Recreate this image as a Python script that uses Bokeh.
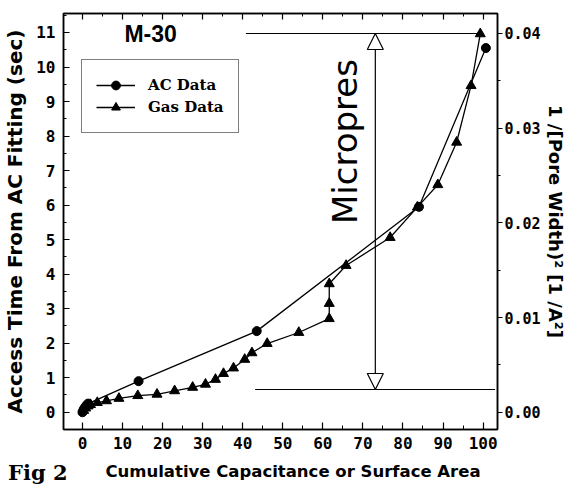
import math
from bokeh.plotting import figure
from bokeh.layouts import column
from bokeh.models import (Range1d, LinearAxis, FixedTicker, Legend, LegendItem,
                          Label, Arrow, NormalHead, NumeralTickFormatter, Div)
from bokeh.embed import file_html
from bokeh.resources import INLINE

# ---- data ----
ac_x = [0.0, 0.2, 0.4, 0.7, 1.0, 1.4, 14.0, 43.5, 84.0, 100.7]
ac_y = [0.0, 0.05, 0.1, 0.15, 0.2, 0.25, 0.9, 2.35, 5.95, 10.55]

gas_x = [0.3, 0.8, 1.4, 2.0, 3.7, 6.0, 9.1, 13.8, 18.6, 23.0, 27.5, 30.7, 33.2,
         35.2, 37.7, 40.5, 42.3, 46.1, 54.0, 61.6, 61.6, 61.6, 65.8, 76.8,
         83.6, 88.7, 93.4, 97.0, 99.3]
gas_y = [0.05, 0.12, 0.18, 0.22, 0.28, 0.33, 0.40, 0.48, 0.52, 0.62, 0.72, 0.81,
         0.95, 1.12, 1.28, 1.53, 1.72, 1.99, 2.31, 2.71, 3.15, 3.72, 4.25, 5.06,
         5.94, 6.59, 7.82, 9.46, 10.96]

x_ticks = [0, 10, 20, 30, 40, 50, 60, 70, 80, 90, 100]
x_minor = [5, 15, 25, 35, 45, 55, 65, 75, 85, 95]
y_ticks = list(range(0, 12))
y_minor = [i + 0.5 for i in range(-1, 12)]
y2_ticks = [0.0, 0.01, 0.02, 0.03, 0.04]
y2_minor = [0.005, 0.015, 0.025, 0.035]

x_title = "Cumulative Capacitance or Surface Area"
y_title = "Access Time From AC Fitting (sec)"
y2_title = "1 /[Pore Width)² [1 /A²]"
fig_title = "Fig 2"
sample_title = "M-30"
band_title = "Micropres"

# micropore band (right-axis units) and its x extents
micro_top = 0.04
micro_bottom = 0.0024
micro_top_x = [40.8, 99.3]
micro_bottom_x = [43.1, 103.0]
micro_arrow_x = 73.1

x_lo, x_hi = -4.74, 103.6
y_lo, y_hi = -0.5, 11.55
k = 0.003646  # left -> right axis scale

W = 568
H_MAIN = 456
H_FOOT = 24

p = figure(width=W, height=H_MAIN, output_backend="svg", toolbar_location=None,
           x_range=Range1d(x_lo, x_hi), y_range=Range1d(y_lo, y_hi),
           min_border_left=63, min_border_right=68, min_border_top=13,
           min_border_bottom=27)
p.extra_y_ranges = {"right": Range1d(y_lo * k, y_hi * k)}
p.xgrid.visible = False
p.ygrid.visible = False
p.outline_line_color = "black"
p.outline_line_width = 1.5
p.background_fill_color = "white"
p.border_fill_color = "white"

tick_font = "DejaVu Sans Mono"

def style_axis(ax, size="16px"):
    ax.axis_line_color = "black"
    ax.axis_line_width = 1.5
    ax.major_tick_line_color = "black"
    ax.minor_tick_line_color = "black"
    ax.major_tick_line_width = 1.2
    ax.minor_tick_line_width = 1.0
    ax.major_label_text_font = tick_font
    ax.major_label_text_font_style = "bold"
    ax.major_label_text_font_size = size
    ax.major_label_text_color = "black"
    ax.major_label_text_line_height = 1.0
    ax.axis_label_text_color = "black"
    ax.axis_label_text_line_height = 1.0

# bottom axis
xa = p.xaxis[0]
style_axis(xa)
xa.ticker = FixedTicker(ticks=x_ticks, minor_ticks=x_minor)
xa.major_tick_in = 7
xa.major_tick_out = 0
xa.minor_tick_in = 4
xa.minor_tick_out = 0
xa.major_label_standoff = 7

# left axis
ya = p.yaxis[0]
style_axis(ya)
ya.ticker = FixedTicker(ticks=y_ticks, minor_ticks=y_minor)
ya.major_tick_in = 6
ya.major_tick_out = 0
ya.minor_tick_in = 3
ya.minor_tick_out = 0
ya.major_label_standoff = 8
ya.axis_label = y_title
ya.axis_label_text_font = "DejaVu Sans"
ya.axis_label_text_font_style = "bold"
ya.axis_label_text_font_size = "20px"
ya.axis_label_standoff = 6

# right axis
ra = LinearAxis(y_range_name="right")
style_axis(ra, "15px")
ra.ticker = FixedTicker(ticks=y2_ticks, minor_ticks=y2_minor)
ra.formatter = NumeralTickFormatter(format="0.00")
ra.major_tick_in = 0
ra.major_tick_out = 5
ra.minor_tick_in = 0
ra.minor_tick_out = 3
ra.major_label_standoff = 2
ra.axis_label = y2_title
ra.axis_label_text_font = "DejaVu Sans"
ra.axis_label_text_font_style = "bold"
ra.axis_label_text_font_size = "18px"
ra.axis_label_standoff = 1
p.add_layout(ra, "right")

# top axis (ticks only, labels not drawn)
ta = LinearAxis()
style_axis(ta)
ta.ticker = FixedTicker(ticks=x_ticks, minor_ticks=x_minor)
ta.major_tick_in = 6
ta.major_tick_out = 0
ta.minor_tick_in = 3
ta.minor_tick_out = 0
ta.major_label_text_color = None
ta.major_label_text_font_size = "1px"
ta.major_label_standoff = 0
p.add_layout(ta, "above")

# data
l_ac = p.line(ac_x, ac_y, line_color="black", line_width=1.3)
s_ac = p.scatter(ac_x, ac_y, marker="circle", size=9, fill_color="black",
                 line_color="black")
l_gas = p.line(gas_x, gas_y, line_color="black", line_width=1.3)
s_gas = p.scatter(gas_x, gas_y, marker="triangle", size=10, fill_color="black",
                  line_color="black")

# micropore annotation
p.line(micro_top_x, [micro_top] * 2, y_range_name="right", line_color="black",
       line_width=1.2)
p.line(micro_bottom_x, [micro_bottom] * 2, y_range_name="right",
       line_color="black", line_width=1.2)
p.add_layout(Arrow(x_start=micro_arrow_x, y_start=micro_bottom,
                   x_end=micro_arrow_x, y_end=micro_top, y_range_name="right",
                   line_color="black", line_width=1.2,
                   start=NormalHead(size=16, fill_color="white", line_color="black", line_width=1.2),
                   end=NormalHead(size=16, fill_color="white", line_color="black", line_width=1.2)))

p.add_layout(Label(x=65.6, y=7.84, text=band_title, angle=math.pi / 2,
                   text_align="center", text_baseline="middle",
                   text_font="DejaVu Sans", text_font_size="34px",
                   text_color="black"))

p.add_layout(Label(x=17.0, y=10.95, text=sample_title, text_align="center",
                   text_baseline="middle", text_font="Liberation Sans",
                   text_font_style="bold", text_font_size="23px",
                   text_color="black"))

legend = Legend(items=[LegendItem(label="AC Data", renderers=[l_ac, s_ac]),
                       LegendItem(label="Gas Data", renderers=[l_gas, s_gas])],
                location=(18, 296))
legend.margin = 0
legend.padding = 14
legend.spacing = 0
legend.glyph_width = 39
legend.glyph_height = 22
legend.label_height = 22
legend.label_standoff = 13
legend.label_text_font = "DejaVu Serif"
legend.label_text_font_style = "bold"
legend.label_text_font_size = "15px"
legend.label_text_color = "black"
legend.border_line_color = "black"
legend.border_line_width = 1.5
legend.background_fill_color = "white"
legend.background_fill_alpha = 1.0
p.add_layout(legend, "center")

# footer strip (HTML text): figure number and x-axis title on one row
footer_html = (
    f'<div style="position:relative;width:{W}px;height:{H_FOOT}px;overflow:visible;">'
    f'<span style="position:absolute;left:3px;top:1px;font-family:\'DejaVu Serif\';'
    f'font-weight:bold;font-size:21px;line-height:21px;white-space:nowrap;color:black;">'
    f'{fig_title}</span>'
    f'<span style="position:absolute;left:20px;width:536px;top:3px;text-align:center;'
    f'font-family:\'DejaVu Sans\';font-weight:bold;font-size:16.5px;line-height:16px;'
    f'white-space:nowrap;color:black;">{x_title}</span>'
    '</div>'
)
foot = Div(text=footer_html, width=W, height=H_FOOT)

layout = column(p, foot, spacing=0)
open("out.html", "w").write(file_html(layout, INLINE))
